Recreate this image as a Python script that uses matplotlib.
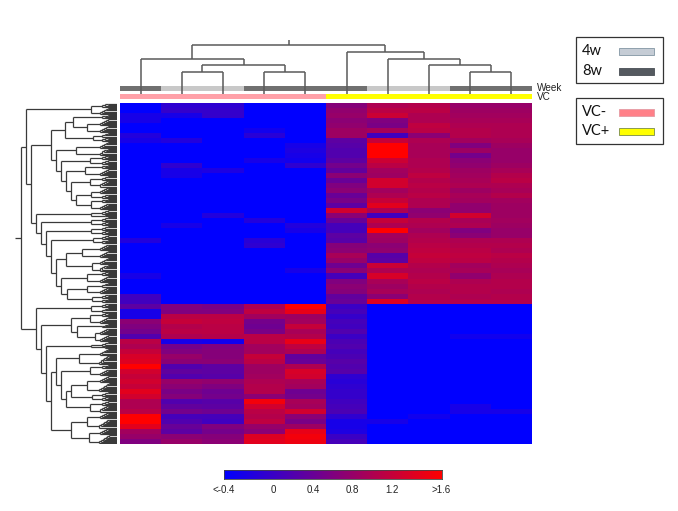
import numpy as np
import matplotlib
matplotlib.use('Agg')
import matplotlib.pyplot as plt
from matplotlib.collections import LineCollection
from matplotlib.colors import LinearSegmentedColormap, ListedColormap
from matplotlib.patches import Rectangle

W, H = 678, 511
B = -0.5

# heatmap values, one list per column, split at the row cluster break
col0_top = [B,B,-.3,-.3,B,B,-.2,-.3,B,B,B,B,B,B,B,B,B,B,B,B,B,B,B,B,B,B,B,-.2,B,B,B,B,B,B,-.3,B,B,B,.05,.05]
col1_top = [-.1,-.05,-.3,B,B,B,B,-.2,B,B,B,B,-.1,-.3,-.3,B,B,B,B,B,B,B,B,B,-.3,B,B,B,B,B,B,B,B,B,B,B,B,B,B,B]
col2_top = [-.1,-.05,-.05,B,B,B,B,B,B,B,B,B,B,-.25,B,B,B,B,B,B,B,B,-.2,B,B,B,B,B,B,B,B,B,B,B,B,B,B,B,B,B]
col3_top = [B,B,B,B,B,-.35,-.15,B,B,B,B,-.3,B,B,B,B,B,B,B,B,B,B,B,-.2,B,B,B,-.15,-.1,B,B,B,B,B,B,B,B,B,B,B]
col4_top = [B,B,B,B,B,B,B,B,-.3,-.25,-.3,-.35,-.1,B,B,B,B,B,B,B,B,B,B,B,-.2,-.3,B,B,B,B,B,B,B,-.3,B,B,B,B,B,B]
col5_top = [.65,.75,.8,.7,.75,.85,.85,.3,.25,.2,.2,.3,.5,.35,.7,.4,.6,.7,.4,.55,.3,1.3,.7,.4,.1,.1,.3,.25,.65,.7,.95,.8,.45,.7,.1,.6,.7,.65,.35,.4]
col6_top = [1.0,1.1,1.25,.6,.55,.95,.05,1.2,1.7,1.7,1.7,1.25,1.1,.9,.85,1.3,1.3,.9,1.0,1.2,1.45,1.0,.05,1.2,1.0,1.7,.9,.85,.7,.75,.25,.3,1.25,1.0,1.35,.95,.85,.95,.7,1.4]
col7_top = [1.05,1.1,1.0,1.0,1.15,1.1,.7,1.0,.95,.95,.95,1.0,1.0,1.05,1.15,1.05,1.1,1.05,1.1,1.0,1.0,.7,.75,1.05,1.0,.9,1.0,1.05,1.1,1.15,1.2,1.15,1.05,1.0,1.05,1.1,1.05,1.0,1.05,1.05]
col8_top = [.8,.85,.9,.95,1.0,1.05,1.05,.9,.6,.85,.5,.7,.75,.85,.9,.95,1.0,.85,.95,.9,.75,.75,1.3,.95,1.0,.6,.7,1.0,1.05,1.1,1.15,1.1,.9,.95,.75,1.0,1.05,1.05,1.0,1.05]
col9_top = [.8,.85,.9,.95,1.0,1.0,1.0,.95,.85,.8,.8,.8,.85,.95,1.05,1.1,1.0,.95,1.05,.9,.85,.85,.85,.9,.85,.8,.8,1.0,1.05,1.0,1.1,1.05,1.0,.95,1.0,1.05,1.05,1.0,1.05,1.05]

col0_low = [.3,-.3,-.3,.7,.6,.5,.2,1.1,1.0,1.2,1.35,1.4,1.7,1.3,1.2,1.3,1.2,1.45,1.3,1.0,1.0,1.1,1.7,1.7,1.45,.9,.8,.6]
col1_low = [.6,.6,1.1,1.2,1.05,1.1,1.0,-.3,.5,.6,.8,.7,.2,.35,.2,.8,.7,.55,.65,.2,.35,.5,.1,.2,.4,.3,.7,.8]
col2_low = [.55,.6,1.1,1.15,1.1,1.1,1.05,-.35,.6,.65,.65,.7,.3,.3,.25,.75,.6,.45,.5,.25,.3,.45,.1,.05,.6,.5,.65,.7]
col3_low = [1.0,1.15,.9,.5,.45,.55,1.1,1.1,.9,.9,1.2,1.1,.85,.85,.9,1.0,1.05,1.05,.7,1.6,1.3,1.1,1.05,1.15,.8,.7,1.4,1.45]
col4_low = [1.7,1.5,.85,.9,1.2,.95,1.05,1.5,1.15,1.0,.35,.4,1.0,1.35,1.3,.95,.9,.45,.5,.95,.9,1.3,.7,.55,.85,1.5,1.6,1.55]
col5_low = [.0,.1,-.05,.1,.05,.2,.0,.15,.2,.1,.15,.25,.2,.25,-.1,-.15,-.1,-.05,-.05,.05,.1,.15,-.1,-.3,-.3,-.25,.0,.1]
col6_low = [B,B,B,B,B,B,B,B,B,B,B,B,B,B,B,B,B,B,B,B,B,B,B,-.3,B,B,B,B]
col7_low = [B,B,B,B,B,B,B,B,B,B,B,B,B,B,B,B,B,B,B,B,B,B,-.35,B,B,B,B,B]
col8_low = [B,B,B,B,B,B,-.35,B,B,B,B,B,B,B,B,B,B,B,B,B,-.3,-.3,B,B,B,B,B,B]
col9_low = [B,B,B,B,B,B,-.35,B,B,B,B,B,B,B,B,B,B,B,B,B,B,-.3,B,B,B,B,B,B]

# annotation strips
week_group = [1, 0, 0, 1, 1, 1, 0, 0, 1, 1]   # 0 = 4w, 1 = 8w
vc_group = [0, 0, 0, 0, 0, 1, 1, 1, 1, 1]     # 0 = VC-, 1 = VC+
bar_ticks = [-0.5, 0, 0.4, 0.8, 1.2, 1.7]
bar_labels = ['<-0.4', '0', '0.4', '0.8', '1.2', '>1.6']

# column tree: (merge height, left, right), ints are columns
col_tree = (49,
            (35, 0, (28.5, (22, 1, 2), (22, 3, 4))),
            (42, 5, (35, 6, (28.5, 7, (22, 8, 9)))))

# little chained clusters at the leaf end of the row tree
f2 = [12]
f4 = [15, 12, 9]
f6 = [17, 15, 13, 11, 9]
f8 = [18, 16, 14, 13, 11, 10, 8]

row_tree = (96,
    (91,
        (26, f4, f6),
        (86,
            (66,
                (52, (44, f4, (30, f6, f6)), (24, f4, f4)),
                (61,
                    (41, f6, f6),
                    (56,
                        (27, f4, f4),
                        (51,
                            (32, f4, f6),
                            (46,
                                (27, f4, f6),
                                (41, (26, f6, f4), (26, f4, f6))))))),
            (81,
                (26, f4, f2),
                (76,
                    (26, f4, f4),
                    (71,
                        (26, f4, f4),
                        (66,
                            (24, f4, f4),
                            (61,
                                (51, (35, f6, f6), (25, f6, f6)),
                                (56, (30, f4, f6), (50, (30, f4, f6), (25, f4, f4)))))))))),
    (81,
        (26, f4, f4),
        (76,
            (46, (27, f4, f6), (40, f4, (22, f6, f6))),
            (71,
                (26, f4, f2),
                (66,
                    (61,
                        (38, f6, f8),
                        (56,
                            (27, f4, f6),
                            (51,
                                (46, (30, f6, f8), (25, f4, f4)),
                                (27, f4, f6)))),
                    (46, (30, f6, f8), (28, f6, f8)))))))


def px_axes(fig, x0, y0, x1, y1):
    return fig.add_axes([x0 / W, 1 - y1 / H, (x1 - x0) / W, (y1 - y0) / H])


def unchain(heights):
    # [h1, h2, h3] -> (h1, leaf, (h2, leaf, (h3, leaf, leaf)))
    node = None
    for h in reversed(heights):
        node = (h, node, None)
    return node


def walk(node, pos, segs):
    # returns (position, height) of a node, adds its links to segs
    if node is None:
        pos[0] += 1
        return pos[0] - 0.5, 0
    if isinstance(node, int):
        return node + 0.5, 0
    if isinstance(node, list):
        node = unchain(node)
    h, a, b = node
    pa, ha = walk(a, pos, segs)
    pb, hb = walk(b, pos, segs)
    segs.append([(pa, ha), (pa, h)])
    segs.append([(pb, hb), (pb, h)])
    segs.append([(pa, h), (pb, h)])
    return (pa + pb) / 2, h


fig = plt.figure(figsize=(W / 100, H / 100), dpi=100)
plt.rcParams['font.family'] = ['Liberation Sans', 'DejaVu Sans']

cmap = LinearSegmentedColormap.from_list('br', ['#0000ff', '#ff0000'])
columns = [col0_top + col0_low, col1_top + col1_low, col2_top + col2_low,
           col3_top + col3_low, col4_top + col4_low, col5_top + col5_low,
           col6_top + col6_low, col7_top + col7_low, col8_top + col8_low,
           col9_top + col9_low]
matrix = np.array(columns).T

ax = px_axes(fig, 120, 103, 532, 444)
ax.imshow(matrix, cmap=cmap, vmin=bar_ticks[0], vmax=bar_ticks[-1], aspect='auto', interpolation='nearest')
ax.axis('off')

# annotation strips
ax = px_axes(fig, 120, 86, 532, 91)
ax.imshow([week_group], cmap=ListedColormap(['#c8c8c8', '#707070']), aspect='auto', interpolation='nearest')
ax.axis('off')
ax = px_axes(fig, 120, 94, 532, 99.5)
ax.imshow([vc_group], cmap=ListedColormap(['#ffa0a8', '#ffff00']), aspect='auto', interpolation='nearest')
ax.axis('off')
fig.text(537 / W, 1 - 88 / H, 'Week', fontsize=7.2, va='center', color='#222222')
fig.text(537 / W, 1 - 97.5 / H, 'VC', fontsize=7.2, va='center', color='#222222')

# column dendrogram
segs = []
p, h = walk(col_tree, [0], segs)
segs.append([(p, h), (p, 54)])
ax = px_axes(fig, 120, 40, 532, 94)
ax.add_collection(LineCollection(segs, colors='#5a5a5a', linewidths=1.1))
ax.set_xlim(0, 10)
ax.set_ylim(0, 54)
ax.patch.set_alpha(0)
ax.axis('off')

# row dendrogram
segs = []
pos = [0]
p, h = walk(row_tree, pos, segs)
segs.append([(p, h), (p, 102)])
ax = px_axes(fig, 15, 103, 117, 444)
ax.add_collection(LineCollection([[(b, a) for a, b in s] for s in segs], colors='#3a3a3a', linewidths=0.9))
ax.set_xlim(102, 0)
ax.set_ylim(pos[0], 0)
ax.axis('off')

# colour bar
ax = px_axes(fig, 224, 470, 441.5, 479)
grad = np.linspace(bar_ticks[0], bar_ticks[-1], 256)
ax.imshow([grad], cmap=cmap, vmin=bar_ticks[0], vmax=bar_ticks[-1], aspect='auto',
          extent=[bar_ticks[0], bar_ticks[-1], 0, 1])
ax.set_yticks([])
ax.set_xticks(bar_ticks, bar_labels, fontsize=7, color='#222222')
ax.tick_params(axis='x', length=0, pad=4)
for s in ax.spines.values():
    s.set_linewidth(0.6)
    s.set_color('#444444')

# legend boxes
bg = fig.add_axes([0, 0, 1, 1], zorder=-1)
bg.set_xlim(0, W)
bg.set_ylim(H, 0)
bg.axis('off')
bg.add_patch(Rectangle((575.5, 37), 87.5, 46, fc='white', ec='#333333', lw=0.9))
bg.add_patch(Rectangle((575.5, 98), 87.5, 46, fc='white', ec='#333333', lw=0.9))
legend_names = ['4w', '8w', 'VC-', 'VC+']
legend_colors = ['#c5ccd5', '#555a60', '#ff8088', '#ffff00']
legend_edges = ['#8fa0ad', '#555a60', '#e8a0a8', '#8a9a50']
legend_y = [51, 71, 112, 131]
for name, c, e, y in zip(legend_names, legend_colors, legend_edges, legend_y):
    bg.text(582, y, name, fontsize=10.5, va='center', family='Lato', color='#111111')
    bg.add_patch(Rectangle((619, y - 3), 35, 7.5, fc=c, ec=e, lw=0.7))

fig.savefig('out.png', dpi=100)
